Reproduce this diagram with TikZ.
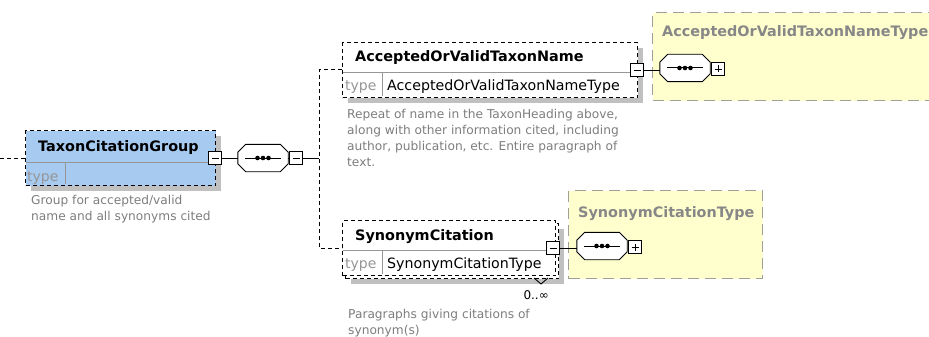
\documentclass[tikz,border=0pt]{standalone}
\usepackage{fontspec}
\setmainfont{DejaVu Sans}
\usetikzlibrary{shadows}

\definecolor{elemblue}{RGB}{166,202,240}
\definecolor{typeyellow}{RGB}{255,255,206}
\definecolor{shadowgray}{RGB}{192,192,192}
\definecolor{descgray}{RGB}{125,125,125}
\definecolor{typeborder}{RGB}{160,160,150}
\definecolor{divgray}{RGB}{150,150,150}
\definecolor{titlegray}{RGB}{135,135,135}

\tikzset{
  boxshadow/.style={drop shadow={shadow xshift=5pt, shadow yshift=-5pt, fill=shadowgray, opacity=1}},
  elembox/.style={draw=black, dash pattern=on 4pt off 3pt, line width=1.1pt,
    fill=white, inner sep=0pt, anchor=north west},
  typebox/.style={draw=typeborder, dash pattern=on 11pt off 6pt, line width=1.2pt,
    fill=typeyellow, inner sep=0pt, anchor=north west},
  divline/.style={draw=divgray, line width=0.8pt},
  togglebox/.style={draw=black, fill=white, line width=0.9pt, minimum size=13pt, inner sep=0pt},
  minusbox/.style={togglebox, path picture={
      \draw[line width=0.9pt] ([xshift=3pt]path picture bounding box.west) --
        ([xshift=-3pt]path picture bounding box.east);}},
  plusbox/.style={togglebox, path picture={
      \draw[line width=0.9pt] ([xshift=3pt]path picture bounding box.west) --
        ([xshift=-3pt]path picture bounding box.east);
      \draw[line width=0.9pt] ([yshift=-3pt]path picture bounding box.north) --
        ([yshift=3pt]path picture bounding box.south);}},
  % sequence compositor: an invisible box, its octagon outline is drawn below
  seqnode/.style={minimum width=50pt, minimum height=27pt, inner sep=0pt},
  link/.style={draw=black, line width=0.9pt},
  dashlink/.style={draw=black, line width=1pt, dash pattern=on 4pt off 3pt},
  ename/.style={font=\fontsize{14.4}{16}\selectfont\bfseries, anchor=base west, inner sep=0pt},
  etype/.style={font=\fontsize{14.2}{16}\selectfont, anchor=base west, inner sep=0pt},
  tlabel/.style={font=\fontsize{14}{16}\selectfont, text=divgray, anchor=base west, inner sep=0pt},
  ttitle/.style={font=\fontsize{14.4}{16}\selectfont\bfseries, text=titlegray, anchor=base west, inner sep=0pt},
  desc/.style={font=\fontsize{12.2}{16.3}\selectfont, text=descgray, align=left,
    anchor=base west, inner sep=0pt},
}

% octagon outline of a sequence compositor node #1, with its three dots
\newcommand\seqoutline[1]{%
  \path[fill=shadowgray, shift={(3pt,-3pt)}]
    ([xshift=8pt]#1.north west) -- ([xshift=-8pt]#1.north east) --
    ([yshift=-8pt]#1.north east) -- ([yshift=8pt]#1.south east) --
    ([xshift=-8pt]#1.south east) -- ([xshift=8pt]#1.south west) --
    ([yshift=8pt]#1.south west) -- ([yshift=-8pt]#1.north west) -- cycle;
  \draw[line width=0.9pt, fill=white]
    ([xshift=8pt]#1.north west) -- ([xshift=-8pt]#1.north east) --
    ([yshift=-8pt]#1.north east) -- ([yshift=8pt]#1.south east) --
    ([xshift=-8pt]#1.south east) -- ([xshift=8pt]#1.south west) --
    ([yshift=8pt]#1.south west) -- ([yshift=-8pt]#1.north west) -- cycle;
  \draw[line width=1pt] ([xshift=-18pt]#1.center) -- ([xshift=18pt]#1.center);
  \fill ([xshift=-5.5pt]#1.center) circle [radius=2.3pt];
  \fill (#1.center) circle [radius=2.3pt];
  \fill ([xshift=5.5pt]#1.center) circle [radius=2.3pt];
}

\begin{document}
\begin{tikzpicture}[x=1pt,y=-1pt]
\useasboundingbox (0,0) rectangle (929,337);
\clip (0,0) rectangle (929,337);

% ---- complex types (yellow) ----
\node[typebox, minimum width=320pt, minimum height=88pt] (aovtnType) at (652,12) {};
\node[ttitle] (aovtnTypeTitle) at (662,37) {AcceptedOrValidTaxonNameType};
\node[typebox, minimum width=194pt, minimum height=88pt] (scType) at (568,190) {};
\node[ttitle] (scTypeTitle) at (578,217) {SynonymCitationType};

% ---- TaxonCitationGroup ----
\node[elembox, fill=elemblue, boxshadow, minimum width=190pt, minimum height=55pt] (tcg) at (25,130) {};
\draw[divline] (25.6,162) -- (214.4,162);
\draw[divline] (65,162) -- (65,184.4);
\node[ename] (tcgName) at (38,151) {TaxonCitationGroup};
\node[tlabel] (tcgType) at (27,181) {type};
% multi-line notes are anchored on the baseline of their last line
\node[desc] (tcgDesc) at (31,220.3) {Group for accepted/valid\\name and all synonyms cited};

% ---- AcceptedOrValidTaxonName ----
\node[elembox, boxshadow, minimum width=295pt, minimum height=55pt] (aovtn) at (342,42) {};
\draw[divline] (342.6,72) -- (636.4,72);
\draw[divline] (382,72) -- (382,96.4);
\node[ename] (aovtnName) at (355,62) {AcceptedOrValidTaxonName};
\node[tlabel] (aovtnTypeLbl) at (345,91) {type};
\node[etype] (aovtnTypeName) at (387,91) {AcceptedOrValidTaxonNameType};
\node[desc] (aovtnDesc) at (347,166.9) {Repeat of name in the TaxonHeading above,\\along with other information cited, including\\author, publication, etc. Entire paragraph of\\text.};

% ---- SynonymCitation (repeated element: stacked outline) ----
\node[elembox, boxshadow, minimum width=213pt, minimum height=55pt] (scBack) at (345,223) {};
\node[elembox, minimum width=213pt, minimum height=55pt] (sc) at (342,220) {};
\draw[divline] (342.6,250) -- (554.4,250);
\draw[divline] (382,250) -- (382,274.4);
\node[ename] (scName) at (355,240) {SynonymCitation};
\node[tlabel] (scTypeLbl) at (345,268) {type};
\node[etype] (scTypeName) at (387,268) {SynonymCitationType};
\draw[line width=0.9pt] (534,278) -- (541,284) -- (548,278);
\node[font=\fontsize{12}{14}\selectfont, anchor=base east, inner sep=0pt] (scOcc) at (549,299) {0..∞};
\node[desc] (scDesc) at (348,334.3) {Paragraphs giving citations of\\synonym(s)};

% ---- toggles and sequence compositors ----
\node[seqnode] (s1) at (263,158) {};
\node[seqnode] (s2) at (685,68) {};
\node[seqnode] (s3) at (602,246) {};
\seqoutline{s1}
\seqoutline{s2}
\seqoutline{s3}
\node[minusbox] (m1) at (215,158) {};
\node[minusbox] (m2) at (296,158) {};
\node[minusbox] (m3) at (637,70) {};
\node[plusbox] (p2) at (718,69) {};
\node[minusbox] (m4) at (553,248) {};
\node[plusbox] (p3) at (635,247) {};

% ---- connectors ----
\coordinate (lead) at (0,158);
\coordinate (branch) at (319,158);
\coordinate (jTop) at (319,70);
\coordinate (jBot) at (319,248);
\draw[dashlink] (lead) -- (tcg.west |- lead);
\draw[link] (m1) -- (s1);
\draw[link] (s1) -- (m2);
\draw[link] (m2) -- (branch);
\draw[dashlink] (aovtn.west |- m3) -- (jTop) -- (jBot) -- (sc.west |- m4);
\draw[link] (m3) -- (s2.west |- m3);
\draw[link] (m4) -- (s3.west |- m4);
\end{tikzpicture}
\end{document}
